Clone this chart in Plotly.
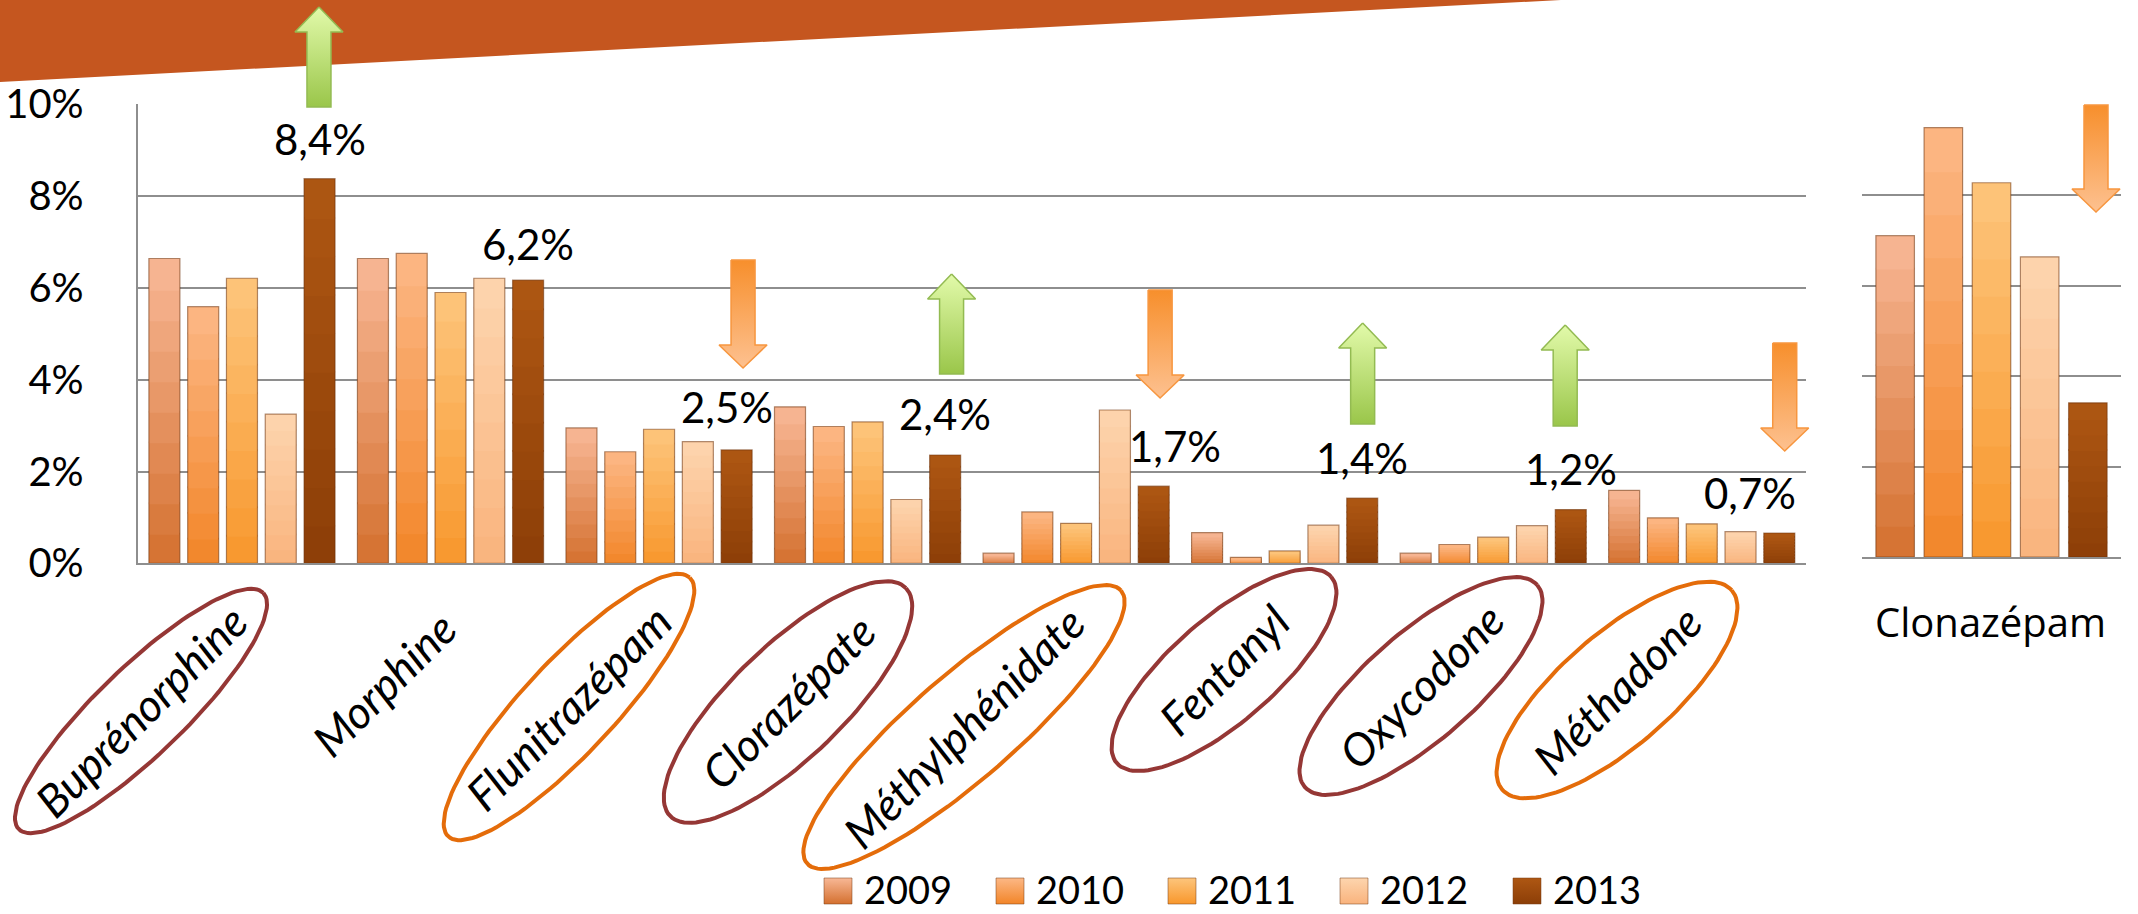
import numpy as np
import plotly.graph_objects as go

W, H = 2138, 914

# ---------------- data ----------------
categories = ["Buprénorphine", "Morphine", "Flunitrazépam", "Clorazépate",
              "Méthylphénidate", "Fentanyl", "Oxycodone", "Méthadone"]
years = ["2009", "2010", "2011", "2012", "2013"]
v2009 = [6.64, 6.64, 2.95, 3.41, 0.22, 0.67, 0.22, 1.59]
v2010 = [5.59, 6.75, 2.43, 2.98, 1.12, 0.13, 0.41, 0.99]
v2011 = [6.21, 5.90, 2.92, 3.08, 0.87, 0.27, 0.57, 0.86]
v2012 = [3.25, 6.21, 2.65, 1.39, 3.34, 0.83, 0.82, 0.69]
v2013 = [8.38, 6.17, 2.47, 2.36, 1.68, 1.42, 1.17, 0.66]
right_category = ["Clonazépam"]
clonazepam = [7.11, 9.50, 8.28, 6.64, 3.41]   # 2009..2013
trend = ["up", None, "down", "up", "down", "up", "up", "down"]
right_trend = "down"
circle = ["dark", None, "orange", "dark", "orange", "dark", "dark", "orange"]
y_ticks = [0, 2, 4, 6, 8, 10]

series = [v2009, v2010, v2011, v2012, v2013]

# ---------------- styles ----------------
FONT = "Lato"
bar_top = ["#F8B896", "#FCB886", "#FDC57C", "#FDD5AE", "#AE5713"]
bar_bot = ["#D4702F", "#F28528", "#F8972C", "#F9B37D", "#8C3E07"]
GRID = "#8E8E8E"
BAND = "#C5561F"
ELL_COL = {"dark": "#953735", "orange": "#E46C0A"}
BARGAP, GROUPGAP = 0.07, 0.2

# layout geometry in pixels
L_X0, L_X1, L_Y0, L_Y1 = 137.7, 1806, 104.3, 563.3
R_X0, R_X1, R_Y0, R_Y1 = 1862, 2121, 105, 557


def px(x):
    return x / W


def py(y):
    return 1 - y / H


def hex2rgb(h):
    h = h.lstrip("#")
    return np.array([int(h[i:i + 2], 16) for i in (0, 2, 4)], dtype=float)


def mix(c0, c1, t):
    c = hex2rgb(c0) * (1 - t) + hex2rgb(c1) * t
    return "rgb(%d,%d,%d)" % tuple(np.round(c).astype(int))


fig = go.Figure()

K = 10
EPS = 0.04
def add_bars(xcats, vals_by_series, xa, ya):
    for s, (yr, vals) in enumerate(zip(years, vals_by_series)):
        vals = np.array(vals, dtype=float)
        for k in range(K):
            t = (k + 0.5) / K
            base = np.maximum(vals * k / K - (EPS if k else 0), 0)
            top = vals * (k + 1) / K
            fig.add_trace(go.Bar(
                x=xcats, y=top - base, base=base,
                marker=dict(color=mix(bar_bot[s], bar_top[s], t), line=dict(width=0)),
                offsetgroup=yr, xaxis=xa, yaxis=ya, showlegend=False,
                hoverinfo="skip"))
        fig.add_trace(go.Bar(
            x=xcats, y=vals, offsetgroup=yr, xaxis=xa, yaxis=ya,
            marker=dict(color="rgba(0,0,0,0)",
                        line=dict(width=1.2, color="rgba(110,50,10,0.55)")),
            showlegend=False, hoverinfo="skip"))


add_bars(categories, series, "x", "y")
add_bars(right_category, [[v] for v in clonazepam], "x2", "y2")

# ---------------- decorations (pixel overlay) ----------------
def ov(**kw):
    kw.update(xaxis="x3", yaxis="y3", showlegend=False, hoverinfo="skip")
    return kw

# top band
fig.add_trace(go.Scatter(**ov(x=[0, 1561, 0, 0], y=[0, 0, 82, 0], mode="lines",
                              fill="toself", fillcolor=BAND, line=dict(width=0))))

cat_w = (L_X1 - L_X0) / len(categories)
def cat_px(i):
    return L_X0 + (i + 0.5) * cat_w

# arrows: (x pixel centre, top, bottom)
arrow_pos = [
    (cat_px(0) + 77, 7, 107),
    None,
    (cat_px(2) + 84, 260, 368),
    (cat_px(3) + 84, 274, 374),
    (cat_px(4) + 84, 290, 398),
    (cat_px(5) + 78, 323, 424),
    (cat_px(6) + 72, 325, 426),
    (cat_px(7) + 83, 343, 451),
]
right_arrow = (2096, 105, 212)


def draw_arrow(cx, yt, yb, direction):
    sw, hw = 12, 24
    if direction == "up":
        hb = yt + 25
        xs = [cx, cx + hw, cx + sw, cx + sw, cx - sw, cx - sw, cx - hw, cx]
        ys = [yt, hb, hb, yb, yb, hb, hb, yt]
        top, bot, lc = "#E2FAAA", "#9AC64A", "#93BB52"
    else:
        hb = yb - 23
        xs = [cx - sw, cx + sw, cx + sw, cx + hw, cx, cx - hw, cx - sw, cx - sw]
        ys = [yt, yt, hb, hb, yb, hb, hb, yt]
        top, bot, lc = "#F78F2C", "#FDC190", "#F7963F"
    fig.add_trace(go.Scatter(**ov(
        x=xs, y=ys, mode="lines", fill="toself",
        fillgradient=dict(type="vertical", start=yt, stop=yb,
                          colorscale=[[0, top], [1, bot]]),
        line=dict(width=1.5, color=lc))))


for d, pos in zip(trend, arrow_pos):
    if d and pos:
        draw_arrow(*pos, d)
draw_arrow(*right_arrow, right_trend)

# category label centres (pixel) and ellipse shapes (a, b, angle)
label_pos = [(141, 711), (384, 684), (569, 707), (788, 702),
             (964, 727), (1224, 670), (1421, 686), (1617, 690)]
ell_geom = [(170, 44, 44), None, (177, 46, 47), (164, 56, 44),
            (208, 52, 41), (142, 52, 41), (154, 54, 41), (152, 56, 41)]

tt = np.linspace(0, 2 * np.pi, 121)
for i, c in enumerate(circle):
    if c is None:
        continue
    cx, cy = label_pos[i]
    a, b, ang = ell_geom[i]
    th = np.deg2rad(ang)
    ex = cx + a * np.cos(tt) * np.cos(th) + b * np.sin(tt) * np.sin(th)
    ey = cy - a * np.cos(tt) * np.sin(th) + b * np.sin(tt) * np.cos(th)
    fig.add_trace(go.Scatter(**ov(x=ex, y=ey, mode="lines",
                                  line=dict(width=4, color=ELL_COL[c]))))

annotations = []
for i, name in enumerate(categories):
    cx, cy = label_pos[i]
    annotations.append(dict(
        x=px(cx), y=py(cy), xref="paper", yref="paper", text="<i>%s</i>" % name,
        textangle=-45, showarrow=False, xanchor="center", yanchor="middle",
        font=dict(family=FONT, size=45, color="black")))

annotations.append(dict(
    x=px(1990), y=py(621), xref="paper", yref="paper", text=right_category[0],
    showarrow=False, xanchor="center", yanchor="middle",
    font=dict(family="Open Sans", size=40, color="black")))

# value labels for 2013
bar_off = 0.4 * (1 - BARGAP)
lab_xshift = [0, 0, -10, 0, 21, 0, 0, -29]
lab_yshift = [40, 36, 43, 41, 40, 40, 41, 40]
for i, v in enumerate(v2013):
    annotations.append(dict(
        x=i + bar_off, y=v, xref="x", yref="y",
        text=("%.1f" % v).replace(".", ",") + "%", showarrow=False,
        xanchor="center", yanchor="middle",
        xshift=lab_xshift[i], yshift=lab_yshift[i],
        font=dict(family=FONT, size=42, color="black")))

# custom legend
leg_x = [838, 1010, 1182, 1354, 1527]
leg_y = 891
for s, yr in enumerate(years):
    cx = leg_x[s]
    xs = [cx - 14, cx + 14, cx + 14, cx - 14, cx - 14]
    ys = [leg_y - 13, leg_y - 13, leg_y + 13, leg_y + 13, leg_y - 13]
    fig.add_trace(go.Scatter(**ov(
        x=xs, y=ys, mode="lines", fill="toself",
        fillgradient=dict(type="vertical", start=leg_y - 13, stop=leg_y + 13,
                          colorscale=[[0, bar_top[s]], [1, bar_bot[s]]]),
        line=dict(width=1, color="rgba(120,60,20,0.5)"))))
    annotations.append(dict(
        x=px(cx + 24), y=py(leg_y - 2), xref="paper", yref="paper", text=yr,
        showarrow=False, xanchor="left", yanchor="middle",
        font=dict(family=FONT, size=38, color="black")))

fig.update_layout(
    width=W, height=H,
    margin=dict(l=0, r=0, t=0, b=0, pad=0, autoexpand=False),
    paper_bgcolor="white", plot_bgcolor="rgba(0,0,0,0)",
    barmode="group", bargap=BARGAP, bargroupgap=GROUPGAP,
    hovermode=False, showlegend=False,
    annotations=annotations,
    xaxis=dict(domain=[px(L_X0), px(L_X1)], anchor="y", type="category",
               range=[-0.5, len(categories) - 0.5], showticklabels=False,
               automargin=False,
               showgrid=False, ticks="", showline=True, linecolor=GRID, linewidth=2),
    yaxis=dict(domain=[py(L_Y1), py(L_Y0)], anchor="x", range=[0, 10],
               automargin=False,
               tickvals=y_ticks, ticktext=["%d%%" % t for t in y_ticks],
               showgrid=True, gridcolor=GRID, gridwidth=2, zeroline=False,
               showline=True, linecolor=GRID, linewidth=2, ticks="",
               ticklabelstandoff=44,
               tickfont=dict(family=FONT, size=40, color="black")),
    xaxis2=dict(domain=[px(R_X0), px(R_X1)], anchor="y2", type="category",
                automargin=False,
                range=[-0.5, 0.5], showticklabels=False, showgrid=False,
                ticks="", showline=True, linecolor=GRID, linewidth=2),
    yaxis2=dict(domain=[py(R_Y1), py(R_Y0)], anchor="x2", range=[0, 10],
                automargin=False,
                tickvals=y_ticks, showticklabels=False, showgrid=True,
                gridcolor=GRID, gridwidth=2, zeroline=False, showline=False,
                ticks=""),
    xaxis3=dict(domain=[0, 1], anchor="y3", range=[0, W], visible=False,
                automargin=False, fixedrange=True),
    yaxis3=dict(domain=[0, 1], anchor="x3", range=[H, 0], visible=False,
                automargin=False, fixedrange=True),
)

fig.write_html("out.html", config={"displayModeBar": False},
               post_script="document.body.style.margin='0';"
                           "document.body.style.overflow='hidden';")
